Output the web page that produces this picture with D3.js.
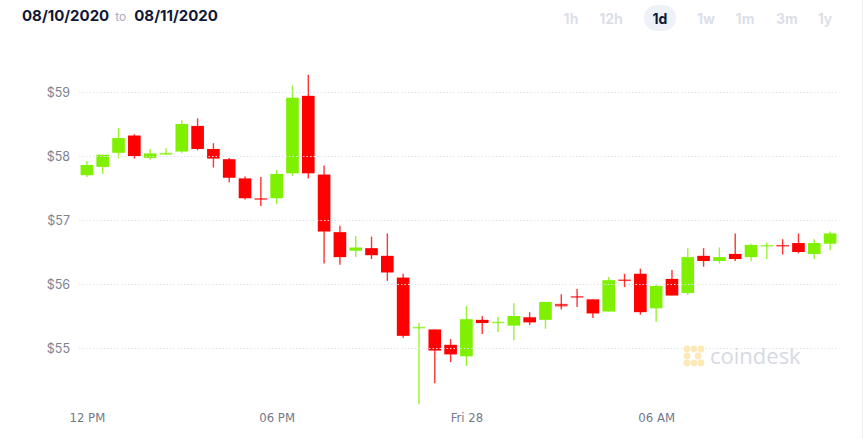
<!DOCTYPE html>
<html>
<head>
<meta charset="utf-8">
<script src="https://cdn.jsdelivr.net/npm/d3@7"></script>
<style>
  body { margin: 0; background: #fff; font-family: Inter, "Open Sans", Arial, sans-serif; }
  svg { display: block; }
</style>
</head>
<body>
<svg id="chart" width="865" height="439"></svg>
<script>
// 30 minute candles, Thu 27 Aug 12:00 -> Fri 28 Aug 11:30
const times = [
  "2020-08-27T12:00", "2020-08-27T12:30", "2020-08-27T13:00", "2020-08-27T13:30",
  "2020-08-27T14:00", "2020-08-27T14:30", "2020-08-27T15:00", "2020-08-27T15:30",
  "2020-08-27T16:00", "2020-08-27T16:30", "2020-08-27T17:00", "2020-08-27T17:30",
  "2020-08-27T18:00", "2020-08-27T18:30", "2020-08-27T19:00", "2020-08-27T19:30",
  "2020-08-27T20:00", "2020-08-27T20:30", "2020-08-27T21:00", "2020-08-27T21:30",
  "2020-08-27T22:00", "2020-08-27T22:30", "2020-08-27T23:00", "2020-08-27T23:30",
  "2020-08-28T00:00", "2020-08-28T00:30", "2020-08-28T01:00", "2020-08-28T01:30",
  "2020-08-28T02:00", "2020-08-28T02:30", "2020-08-28T03:00", "2020-08-28T03:30",
  "2020-08-28T04:00", "2020-08-28T04:30", "2020-08-28T05:00", "2020-08-28T05:30",
  "2020-08-28T06:00", "2020-08-28T06:30", "2020-08-28T07:00", "2020-08-28T07:30",
  "2020-08-28T08:00", "2020-08-28T08:30", "2020-08-28T09:00", "2020-08-28T09:30",
  "2020-08-28T10:00", "2020-08-28T10:30", "2020-08-28T11:00", "2020-08-28T11:30"
];

const openVals = [57.70, 57.83, 58.05, 58.32, 57.97, 58.02, 58.07, 58.47, 58.11, 57.95, 57.65, 57.34,
  57.34, 57.73, 58.94, 57.71, 56.81, 56.52, 56.56, 56.44, 56.10, 55.31, 55.29, 55.05,
  54.87, 55.44, 55.39, 55.35, 55.48, 55.44, 55.69, 55.81, 55.76, 55.57, 56.07, 56.16,
  55.62, 56.08, 55.86, 56.44, 56.36, 56.47, 56.42, 56.60, 56.61, 56.64, 56.47, 56.63];
const highVals = [57.92, 58.02, 58.44, 58.34, 58.11, 58.12, 58.56, 58.59, 58.20, 57.97, 57.68, 57.67,
  57.78, 59.10, 59.27, 57.85, 56.91, 56.75, 56.74, 56.79, 56.16, 55.39, 55.29, 55.14,
  55.66, 55.50, 55.49, 55.70, 55.56, 55.72, 55.84, 55.92, 55.76, 56.11, 56.16, 56.24,
  55.99, 56.22, 56.56, 56.56, 56.57, 56.79, 56.63, 56.65, 56.70, 56.79, 56.70, 56.82];
const lowVals = [57.67, 57.72, 57.96, 57.96, 57.94, 58.02, 58.05, 58.09, 57.82, 57.59, 57.32, 57.22,
  57.25, 57.69, 57.65, 56.32, 56.30, 56.42, 56.39, 56.05, 55.16, 54.12, 54.45, 54.78,
  54.72, 55.22, 55.25, 55.12, 55.36, 55.30, 55.60, 55.64, 55.47, 55.57, 55.95, 55.52,
  55.41, 55.82, 55.83, 56.27, 56.32, 56.36, 56.36, 56.39, 56.46, 56.48, 56.39, 56.53];
const closeVals = [57.86, 58.02, 58.28, 58.00, 58.04, 58.05, 58.50, 58.11, 57.96, 57.66, 57.34, 57.33,
  57.72, 58.91, 57.73, 56.82, 56.42, 56.57, 56.45, 56.18, 55.19, 55.33, 54.96, 54.90,
  55.45, 55.39, 55.41, 55.50, 55.40, 55.72, 55.65, 55.79, 55.54, 56.06, 56.05, 55.56,
  55.97, 55.82, 56.42, 56.36, 56.42, 56.39, 56.61, 56.61, 56.60, 56.50, 56.64, 56.79];

const priceTicks = [55, 56, 57, 58, 59];
const timeTicks = ["2020-08-27T12:00", "2020-08-27T18:00", "2020-08-28T00:00", "2020-08-28T06:00"];
const timeTickLabels = ["12 PM", "06 PM", "Fri 28", "06 AM"];

const rangeButtons = ["1h", "12h", "1d", "1w", "1m", "3m", "1y"];
const activeRange = "1d";

const UP = "#7ff000";
const DOWN = "#ff0000";

const parse = d3.timeParse("%Y-%m-%dT%H:%M");
const candles = times.map((t, i) => ({
  t: parse(t),
  open: openVals[i], high: highVals[i], low: lowVals[i], close: closeVals[i]
}));

const svg = d3.select("#chart");

// header: date range
const header = svg.append("text").attr("x", 22).attr("y", 21)
  .style("font-family", "Inter, Roboto, Arial, sans-serif");
header.append("tspan").text("08/10/2020")
  .attr("font-size", 15).attr("font-weight", 700).attr("fill", "#111836");
header.append("tspan").text("to").attr("dx", 6)
  .attr("font-size", 12).attr("fill", "#a9adbd");
header.append("tspan").text("08/11/2020").attr("dx", 8)
  .attr("font-size", 15).attr("font-weight", 700).attr("fill", "#111836");

// range buttons
const btnX = [571, 611, 660, 706, 745, 787, 825];
rangeButtons.forEach((b, i) => {
  if (b === activeRange) {
    svg.append("rect").attr("x", btnX[i] - 16).attr("y", 5)
      .attr("width", 32).attr("height", 26).attr("rx", 13).attr("fill", "#eef1f8");
  }
  svg.append("text").attr("x", btnX[i]).attr("y", 24)
    .attr("text-anchor", "middle")
    .attr("font-size", 14).attr("font-weight", 700)
    .style("font-family", "Inter, Roboto, Arial, sans-serif")
    .attr("fill", b === activeRange ? "#111836" : "#dcdfe8")
    .text(b);
});

// right border of the widget
svg.append("line").attr("x1", 862.5).attr("x2", 862.5).attr("y1", 0).attr("y2", 439)
  .attr("stroke", "#eceef2");

// scales
const x = d3.scaleTime()
  .domain([parse("2020-08-27T11:45"), parse("2020-08-28T11:45")])
  .range([79, 838]);
const y = d3.scaleLinear().domain([55, 59]).range([348, 92]);

const step = x(candles[1].t) - x(candles[0].t);
const bodyW = step * 0.8;

// y axis labels
const yAxis = d3.axisLeft(y)
  .tickValues(priceTicks)
  .tickFormat(d => "$" + d)
  .tickSize(0)
  .tickPadding(0);
const yg = svg.append("g").attr("transform", "translate(70,0)").call(yAxis);
yg.select(".domain").remove();
yg.selectAll("text")
  .attr("fill", "#7d8290")
  .attr("font-size", 12.5)
  .style("font-family", "Inter, Roboto, Arial, sans-serif");

// candles
const cg = svg.append("g");
const candle = cg.selectAll("g.candle").data(candles).enter().append("g")
  .attr("class", "candle");

candle.append("line")
  .attr("x1", d => x(d.t)).attr("x2", d => x(d.t))
  .attr("y1", d => y(d.high)).attr("y2", d => y(d.low))
  .attr("stroke", d => d.close >= d.open ? UP : DOWN)
  .attr("stroke-opacity", 0.8)
  .attr("stroke-width", 1.4);

candle.append("rect")
  .attr("x", d => x(d.t) - bodyW / 2)
  .attr("y", d => y(Math.max(d.open, d.close)))
  .attr("width", bodyW)
  .attr("height", d => Math.max(1.5, Math.abs(y(d.open) - y(d.close))))
  .attr("fill", d => d.close >= d.open ? UP : DOWN)
  .attr("fill-opacity", d => Math.abs(y(d.open) - y(d.close)) < 3 ? 0.75 : 1);

// grid lines on top of candles
svg.append("g").selectAll("line").data(priceTicks).enter().append("line")
  .attr("x1", 79).attr("x2", 838)
  .attr("y1", d => y(d) + 0.5).attr("y2", d => y(d) + 0.5)
  .attr("stroke", "#dfe3ee")
  .attr("stroke-width", 1)
  .attr("stroke-dasharray", "1.5,2");

// x axis labels
const xAxis = d3.axisBottom(x)
  .tickValues(timeTicks.map(parse))
  .tickFormat((d, i) => timeTickLabels[i])
  .tickSize(0)
  .tickPadding(0);
const xg = svg.append("g").attr("transform", "translate(0,413)").call(xAxis);
xg.select(".domain").remove();
xg.selectAll("text")
  .attr("fill", "#737889")
  .attr("font-size", 13)
  .style("font-family", "'Liberation Sans Narrow', 'DejaVu Sans Condensed', Arial, sans-serif");

// coindesk watermark
const wm = svg.append("g").attr("transform", "translate(684,346)");
const dots = [[3, 3], [10, 3], [17, 3], [3, 10], [3, 17], [10, 17], [17, 17], [14, 10]];
wm.selectAll("circle").data(dots).enter().append("circle")
  .attr("cx", d => d[0]).attr("cy", d => d[1]).attr("r", 3.4)
  .attr("fill", "#fde9b8");
wm.append("text").attr("x", 26).attr("y", 18)
  .attr("font-size", 22)
  .style("font-family", "'Open Sans', Roboto, Arial, sans-serif")
  .attr("fill", "#d6d9e1")
  .text("coindesk");
</script>
</body>
</html>
